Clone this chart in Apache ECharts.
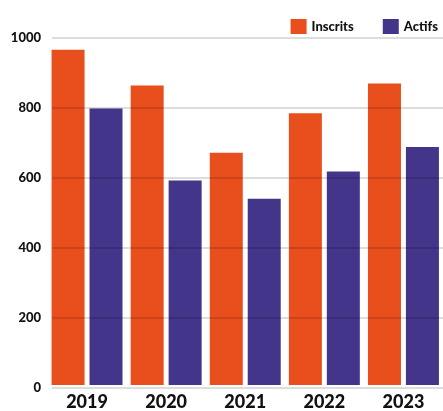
<!DOCTYPE html>
<html><head><meta charset="utf-8">
<script src="https://cdn.jsdelivr.net/npm/echarts@6/dist/echarts.min.js"></script>
<style>html,body{margin:0;padding:0;background:#fff}#c{width:443px;height:411px}</style>
</head><body><div id="c"></div>
<script>
const years = ['2019','2020','2021','2022','2023'];
const inscrits = [966, 863, 669, 783, 869];
const actifs = [797, 589, 537, 615, 686];
const yTicks = [0, 200, 400, 600, 800, 1000];

const chart = echarts.init(document.getElementById('c'));
chart.setOption({
  animation: false,
  legend: {
    right: 0, top: 14, itemWidth: 16, itemHeight: 15, itemGap: 29, icon: 'rect',
    textStyle: {fontFamily: 'Lato', fontWeight: 900, fontSize: 13, color: '#111'},
    data: ['Inscrits', 'Actifs']
  },
  grid: [
    {left: 47.5, width: 400, top: 38, height: 350},
    {left: 52, right: 0, top: 38, height: 350}
  ],
  xAxis: [
    {type: 'category', gridIndex: 0, data: years,
     axisLine: {show: false}, axisTick: {show: false},
     axisLabel: {fontFamily: 'Lato', fontWeight: 900, fontSize: 18, color: '#111', margin: 8}},
    {type: 'value', gridIndex: 1, show: false, min: 0, max: 1}
  ],
  yAxis: [
    {type: 'value', gridIndex: 0, min: yTicks[0], max: yTicks[yTicks.length-1], interval: 200, show: false},
    {type: 'value', gridIndex: 1, min: yTicks[0], max: yTicks[yTicks.length-1], interval: 200, z: 5,
     axisLine: {show: false}, axisTick: {show: false},
     axisLabel: {fontFamily: 'Lato', fontWeight: 900, fontSize: 13, color: '#111', margin: 11,
       formatter: v => String(v)},
     splitLine: {show: true, lineStyle: {color: 'rgba(0,0,0,0.18)', width: 1.5}}}
  ],
  series: [
    {name: 'Inscrits', type: 'bar', xAxisIndex: 0, yAxisIndex: 0, data: inscrits,
     barWidth: 33, barGap: '15%', itemStyle: {color: '#E94F1D'}},
    {name: 'Actifs', type: 'bar', xAxisIndex: 0, yAxisIndex: 0, data: actifs,
     barWidth: 33, barGap: '15%', itemStyle: {color: '#43358A'}}
  ]
});
</script></body></html>
